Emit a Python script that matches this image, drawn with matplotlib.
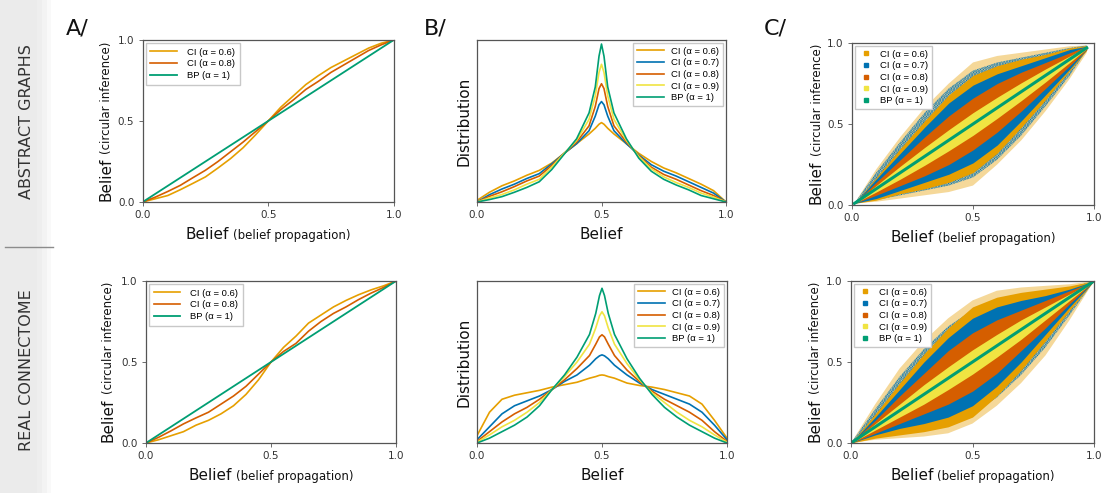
"""
Circular inference vs belief propagation: belief comparison (A), belief
distributions (B) and belief scatter (C), for abstract graphs and the real connectome.
"""
import matplotlib
matplotlib.use("Agg")
import numpy as np
import matplotlib.pyplot as plt
from matplotlib.lines import Line2D

plt.rcParams["font.family"] = ["DejaVu Sans"]
plt.rcParams["hatch.linewidth"] = 1.6

# ---------- colours ----------
ORANGE, BLUE, VERM, YELLOW, GREEN = "#E69F00", "#0072B2", "#D55E00", "#F0E442", "#009E73"

# ---------- A/ belief CI vs belief BP ----------
a_x = [0, .05, .1, .15, .2, .25, .3, .35, .4, .45, .5, .55, .6, .65, .7, .75, .8, .85, .9, .95, 1]
a_top_ci06 = [0, .02, .04, .076, .115, .155, .21, .268, .335, .415, .5, .585, .655, .725, .78, .83, .87, .91, .95, .98, 1]
a_top_ci08 = [0, .03, .065, .103, .15, .196, .25, .31, .37, .435, .5, .57, .63, .695, .745, .80, .845, .89, .935, .97, 1]
a_bot_ci06 = [0, .02, .045, .07, .11, .14, .18, .23, .30, .39, .5, .59, .66, .74, .79, .84, .88, .915, .945, .97, 1]
a_bot_ci08 = [0, .035, .075, .118, .155, .19, .24, .29, .35, .425, .5, .565, .615, .69, .75, .80, .84, .885, .925, .96, 1]
bp_x = [0, 1]
bp_y = [0, 1]
a_labels = ["CI (α = 0.6)", "CI (α = 0.8)", "BP (α = 1)"]

# ---------- B/ belief distributions (fraction of axis height) ----------
b_x = [0, .05, .1, .15, .2, .25, .3, .35, .4, .45, .475, .49, .5, .51, .525, .55, .6, .65, .7, .75, .8, .85, .9, .95, 1]
b_top = {
    "CI (α = 0.6)": [.01, .06, .10, .13, .165, .195, .24, .30, .36, .42, .455, .48, .49, .48, .455, .42, .36, .30, .25, .21, .18, .145, .11, .07, 0],
    "CI (α = 0.7)": [0, .045, .08, .11, .145, .175, .235, .30, .36, .44, .53, .60, .62, .60, .53, .44, .36, .29, .23, .19, .16, .125, .09, .055, 0],
    "CI (α = 0.8)": [0, .035, .063, .095, .13, .16, .225, .30, .37, .47, .59, .70, .73, .70, .59, .47, .37, .285, .215, .17, .14, .105, .07, .04, 0],
    "CI (α = 0.9)": [0, .025, .046, .075, .11, .14, .215, .30, .38, .51, .655, .80, .85, .80, .655, .51, .38, .28, .205, .155, .12, .09, .055, .03, 0],
    "BP (α = 1)":   [0, .015, .033, .06, .09, .125, .20, .295, .39, .55, .71, .90, .975, .90, .71, .55, .39, .27, .19, .14, .105, .075, .04, .02, 0],
}
b_bot = {
    "CI (α = 0.6)": [.045, .19, .27, .295, .31, .325, .345, .36, .375, .40, .41, .418, .42, .418, .41, .40, .37, .355, .345, .33, .31, .29, .24, .14, .03],
    "CI (α = 0.7)": [.02, .10, .18, .23, .26, .29, .33, .38, .42, .48, .52, .538, .544, .538, .52, .48, .42, .37, .33, .30, .27, .24, .19, .11, .02],
    "CI (α = 0.8)": [.01, .07, .13, .18, .22, .27, .33, .39, .46, .54, .61, .655, .668, .655, .61, .54, .45, .38, .32, .27, .23, .19, .14, .07, .01],
    "CI (α = 0.9)": [.005, .05, .10, .14, .19, .25, .33, .41, .50, .61, .71, .785, .81, .785, .71, .61, .49, .39, .31, .25, .19, .14, .10, .05, .005],
    "BP (α = 1)":   [0, .03, .07, .11, .16, .23, .33, .42, .53, .67, .80, .91, .955, .91, .80, .67, .52, .40, .30, .22, .16, .11, .07, .03, 0],
}
b_colors = [ORANGE, BLUE, VERM, YELLOW, GREEN]

# ---------- C/ scatter clouds: upper / lower envelopes per alpha ----------
c_top_x = [.01, .1, .2, .3, .4, .5, .6, .7, .8, .9, .97]
c_top = {
    "or_out":  ([.01, .22, .42, .60, .75, .88, .92, .94, .96, .98, .985], [.01, .02, .04, .06, .08, .12, .25, .40, .58, .78, .94]),
    "or_core": ([.01, .17, .35, .52, .68, .80, .86, .90, .93, .97, .985], [.01, .03, .07, .10, .14, .20, .32, .48, .65, .83, .955]),
    "bl_out":  ([.01, .20, .39, .57, .72, .83, .88, .91, .94, .97, .985], [.01, .03, .06, .09, .12, .17, .28, .43, .61, .80, .955]),
    "bl_core": ([.01, .16, .32, .48, .63, .74, .81, .86, .91, .96, .98], [.01, .04, .09, .14, .19, .26, .37, .52, .68, .84, .96]),
    "red":     ([.01, .14, .28, .42, .55, .66, .75, .82, .88, .94, .98], [.01, .06, .12, .18, .25, .34, .45, .58, .72, .86, .96]),
    "yellow":  ([.01, .12, .24, .355, .465, .57, .665, .755, .84, .92, .975], [.01, .08, .16, .245, .335, .43, .535, .645, .76, .88, .965]),
}
c_top_bp = [.01, .97]
c_bot_x = [0, .1, .2, .3, .4, .5, .6, .7, .8, .9, 1]
c_bot = {
    "or_out":  ([0, .24, .46, .63, .77, .88, .94, .96, .97, .98, 1], [0, .02, .03, .04, .06, .12, .23, .37, .54, .76, 1]),
    "or_core": ([0, .18, .37, .55, .71, .84, .90, .93, .95, .97, 1], [0, .03, .05, .07, .10, .16, .29, .45, .63, .82, 1]),
    "bl_out":  ([0, .21, .41, .58, .72, .82, .88, .91, .94, .96, 1], [0, .04, .06, .09, .12, .18, .28, .42, .59, .79, 1]),
    "bl_core": ([0, .16, .33, .50, .65, .77, .84, .88, .91, .95, 1], [0, .05, .09, .12, .16, .23, .35, .50, .67, .84, 1]),
    "red":     ([0, .14, .29, .43, .57, .68, .76, .82, .88, .94, 1], [0, .06, .12, .18, .24, .32, .43, .57, .71, .86, 1]),
    "yellow":  ([0, .12, .24, .36, .47, .575, .67, .76, .84, .92, 1], [0, .08, .16, .24, .33, .425, .53, .64, .76, .88, 1]),
}
c_bot_bp = [0, 1]
c_labels = ["CI (α = 0.6)", "CI (α = 0.7)", "CI (α = 0.8)", "CI (α = 0.9)", "BP (α = 1)"]

# ---------- figure ----------
W, H = 1105, 493
fig = plt.figure(figsize=(W / 100, H / 100), dpi=100)


def px(l, t, w, h):
    return [l / W, 1 - (t + h) / H, w / W, h / H]


LEG = dict(prop={"family": "Liberation Sans", "size": 6.8}, fancybox=False, framealpha=1,
           edgecolor="#c8c8c8", borderaxespad=0.3)


def style(ax, yticks=True):
    ax.set_xlim(0, 1)
    ax.set_ylim(0, 1)
    ax.set_xticks([0, .5, 1])
    ax.set_xticklabels(["0.0", "0.5", "1.0"])
    if yticks:
        ax.set_yticks([0, .5, 1])
        ax.set_yticklabels(["0.0", "0.5", "1.0"])
    else:
        ax.set_yticks([])
    ax.tick_params(length=3, width=0.6, color="#555555", labelsize=7.5, labelcolor="#333333", pad=3)
    for s in ax.spines.values():
        s.set_color("#555555")
        s.set_linewidth(0.9)


def two_size_label(ax, big, small, pos, vertical=False):
    r = fig.canvas.get_renderer()
    rot = 90 if vertical else 0
    kw = dict(transform=ax.transAxes, va="baseline", ha="left", rotation=rot,
              rotation_mode="anchor", color="#111111")
    t1 = ax.text(0, 0, big, fontsize=11, **kw)
    t2 = ax.text(0, 0, small, fontsize=8.5, **kw)
    b1, b2 = t1.get_window_extent(r), t2.get_window_extent(r)
    axbb = ax.get_window_extent(r)
    gap = 4
    if vertical:
        y0 = 0.5 - (b1.height + gap + b2.height) / 2 / axbb.height
        t1.set_position((pos, y0))
        t2.set_position((pos, y0 + (b1.height + gap) / axbb.height))
    else:
        x0 = 0.5 - (b1.width + gap + b2.width) / 2 / axbb.width
        t1.set_position((x0, pos))
        t2.set_position((x0 + (b1.width + gap) / axbb.width, pos))


# left strip
strip = fig.add_axes([0, 0, 56 / W, 1])
grad = np.array([[0.92] * 8 + [0.93, 0.95, 0.975, 1.0]])
strip.imshow(grad, cmap="gray", vmin=0, vmax=1, aspect="auto", extent=[0, 1, 0, 1])
strip.axis("off")
fig.add_artist(Line2D([5 / W, 53 / W], [1 - 247 / H] * 2, color="#8c8c8c", lw=1))
fig.text(27 / W, 1 - 122 / H, "ABSTRACT GRAPHS", rotation=90, ha="center", va="center",
         fontsize=11.5, color="#333333")
fig.text(27 / W, 1 - 370 / H, "REAL CONNECTOME", rotation=90, ha="center", va="center",
         fontsize=11.5, color="#333333")

# panel letters
for lx, letter in [(66, "A/"), (424, "B/"), (764, "C/")]:
    fig.text(lx / W, 1 - 35 / H, letter, fontsize=16, va="baseline", color="#111111")

# ---------- A ----------
for box, ci06, ci08, ylab_pos in [((142.7, 40, 251, 162), a_top_ci06, a_top_ci08, -0.13),
                                  ((146, 281, 250, 162), a_bot_ci06, a_bot_ci08, -0.136)]:
    ax = fig.add_axes(px(*box))
    ax.plot(a_x, ci06, color=ORANGE, lw=1.2, label=a_labels[0])
    ax.plot(a_x, ci08, color=VERM, lw=1.2, label=a_labels[1])
    ax.plot(bp_x, bp_y, color=GREEN, lw=1.3, label=a_labels[2])
    style(ax)
    ax.legend(loc="upper left", handlelength=2.8, handletextpad=1.1, labelspacing=0.3,
              borderpad=0.5, **LEG)
    two_size_label(ax, "Belief", "(belief propagation)", -0.23)
    two_size_label(ax, "Belief", "(circular inference)", ylab_pos, vertical=True)

# ---------- B ----------
for box, curves in [((477, 40, 249, 162), b_top), ((477, 281, 250, 162), b_bot)]:
    ax = fig.add_axes(px(*box))
    for (lab, ys), c in zip(curves.items(), b_colors):
        ax.plot(b_x, ys, color=c, lw=1.2, label=lab)
    style(ax, yticks=False)
    ax.legend(loc="upper right", handlelength=2.8, handletextpad=0.8, labelspacing=0.28,
              borderpad=0.4, **LEG)
    ax.text(0.5, -0.23, "Belief", transform=ax.transAxes, ha="center", va="baseline",
            fontsize=11, color="#111111")
    ax.text(-0.035, 0.5, "Distribution", transform=ax.transAxes, rotation=90,
            rotation_mode="anchor", ha="center", va="baseline", fontsize=11, color="#111111")

# ---------- C ----------
for box, cx, bands, bp in [((852, 43, 242, 162), c_top_x, c_top, c_top_bp),
                           ((851, 281, 243, 162), c_bot_x, c_bot, c_bot_bp)]:
    ax = fig.add_axes(px(*box))
    # sparse outer clouds: light fill / dotted hatch, dense cores solid
    up, lo = bands["or_out"]
    ax.fill_between(cx, lo, up, facecolor=ORANGE, alpha=0.4, lw=0)
    up, lo = bands["bl_out"]
    ax.fill_between(cx, lo, up, facecolor="none", edgecolor=BLUE, hatch="......", lw=0)
    for key, c in [("or_core", ORANGE), ("bl_core", BLUE), ("red", VERM), ("yellow", YELLOW)]:
        up, lo = bands[key]
        ax.fill_between(cx, lo, up, color=c, lw=0)
    ax.plot(bp, bp, color=GREEN, lw=2.2)
    style(ax)
    handles = [Line2D([], [], marker="s", ls="none", color=c, markersize=2.5)
               for c in b_colors]
    ax.legend(handles, c_labels, loc="upper left", handlelength=1.5, handletextpad=0.8,
              labelspacing=0.28, borderpad=0.4, **LEG)
    two_size_label(ax, "Belief", "(belief propagation)", -0.23)
    two_size_label(ax, "Belief", "(circular inference)", -0.13, vertical=True)

fig.savefig("out.png", dpi=100)
